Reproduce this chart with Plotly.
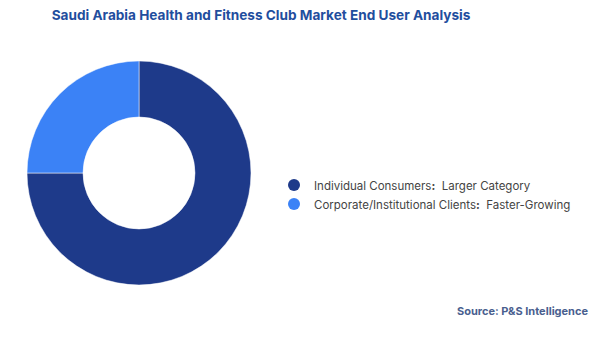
import plotly.graph_objects as go

# End-user segments and their share of the market
segments = ["Individual Consumers", "Corporate/Institutional Clients"]
descriptors = ["Larger Category", "Faster-Growing"]
shares = [75, 25]
colors = ["#1e3a8a", "#3b82f6"]

fig = go.Figure()

fig.add_trace(go.Pie(
    labels=segments,
    values=shares,
    hole=0.5,
    sort=False,
    direction="clockwise",
    rotation=0,
    marker=dict(colors=colors, line=dict(color="#ffffff", width=0.5)),
    textinfo="none",
    hoverinfo="label+percent",
    showlegend=False,
    domain=dict(x=[27 / 600, 251 / 600], y=[51 / 337, 276 / 337 + 0.003]),
))

# Legend entries with round markers
for seg, desc, col in zip(segments, descriptors, colors):
    fig.add_trace(go.Scatter(
        x=[None], y=[None], mode="markers",
        marker=dict(symbol="circle", size=10, color=col),
        name=f"{seg}<b>:</b>  {desc}",
        showlegend=True,
        hoverinfo="skip",
    ))

fig.update_layout(
    width=600, height=337,
    margin=dict(l=0, r=0, t=0, b=0),
    paper_bgcolor="white", plot_bgcolor="white",
    font=dict(family="Inter, Noto Sans, sans-serif", color="#444444"),
    title=dict(
        text="<b>Saudi Arabia Health and Fitness Club Market End User Analysis</b>",
        x=261 / 600, xanchor="center", y=1 - 15 / 337, yanchor="middle",
        font=dict(size=13.6, color="#1f4e9e", family="Inter, Noto Sans, sans-serif"),
    ),
    xaxis=dict(visible=False), yaxis=dict(visible=False),
    legend=dict(
        x=274 / 600, xanchor="left", y=0.5 - 26 / 337, yanchor="middle",
        font=dict(size=11.5, color="#444444"),
        itemsizing="constant", tracegroupgap=7,
        bgcolor="rgba(0,0,0,0)",
    ),
    annotations=[dict(
        text="<b>Source: P&S Intelligence</b>",
        x=590 / 600, y=1 - 311 / 337, xref="paper", yref="paper",
        xanchor="right", yanchor="middle", showarrow=False,
        font=dict(size=11, color="#4a5f8f"),
    )],
)

fig.write_html("out.html")
